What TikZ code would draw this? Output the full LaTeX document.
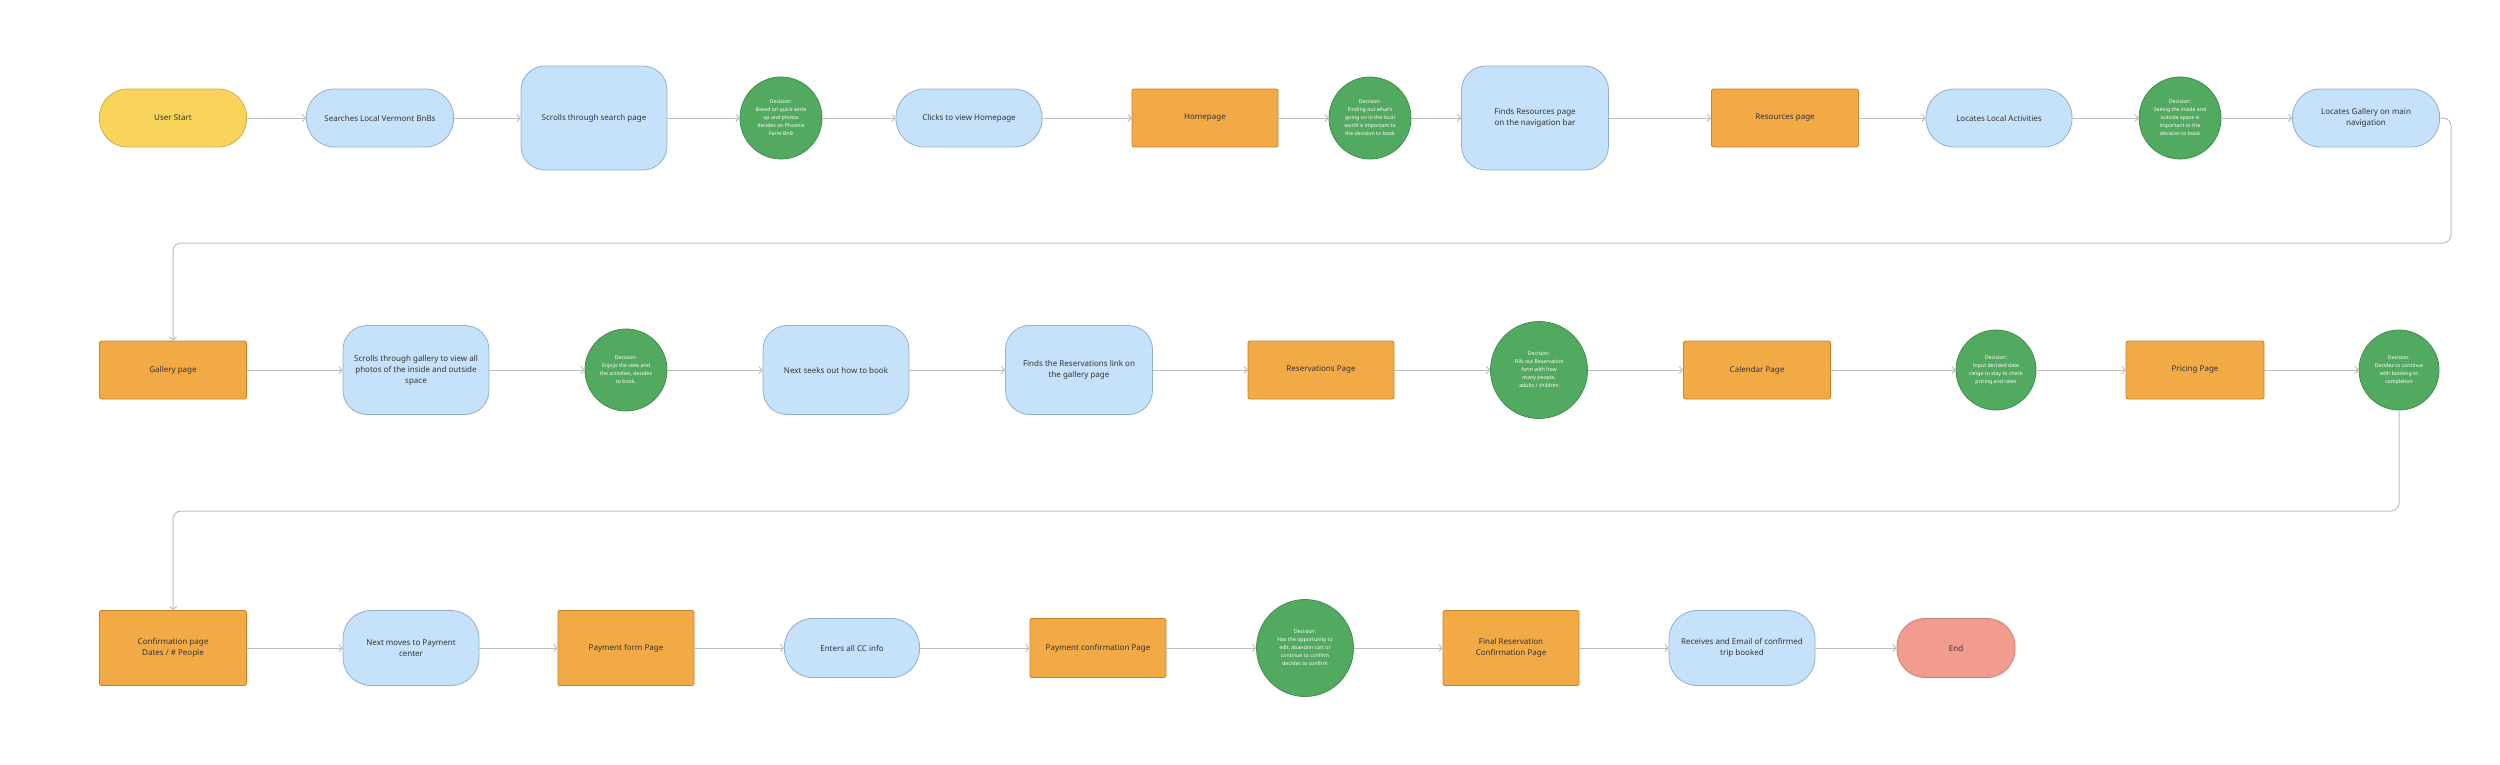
\documentclass[tikz,border=0pt]{standalone}
\usepackage{fontspec}
\setmainfont{Noto Sans}
\usetikzlibrary{arrows.meta}

\definecolor{startfill}{HTML}{F8D45A}
\definecolor{startline}{HTML}{CFAF55}
\definecolor{stepfill}{HTML}{C6E2FA}
\definecolor{stepline}{HTML}{93AECB}
\definecolor{pagefill}{HTML}{F2AA47}
\definecolor{pageline}{HTML}{C78426}
\definecolor{decfill}{HTML}{52AA61}
\definecolor{decline}{HTML}{3F8E4D}
\definecolor{endfill}{HTML}{F19C8F}
\definecolor{endline}{HTML}{C8837A}
\definecolor{flowgray}{HTML}{BDBDBD}
\definecolor{textgray}{HTML}{333333}

\tikzset{
  flowbox/.style={draw, line width=0.8pt, text=textgray, align=center,
    font=\fontsize{8}{11}\selectfont, inner sep=2pt},
  startnode/.style={flowbox, fill=startfill, draw=startline, rounded corners=28pt,
    minimum width=147pt, minimum height=58pt},
  stepnode/.style={flowbox, fill=stepfill, draw=stepline, rounded corners=28pt,
    minimum width=147pt, minimum height=58pt},
  tallstep/.style={stepnode, rounded corners=24pt, minimum height=104pt},
  midstep/.style={stepnode, rounded corners=24pt, minimum height=89pt},
  pagebox/.style={flowbox, fill=pagefill, draw=pageline, rounded corners=2pt,
    minimum width=147pt, minimum height=58pt},
  endbox/.style={flowbox, fill=endfill, draw=endline, rounded corners=28pt,
    minimum width=118pt, minimum height=59pt},
  decisionnode/.style={circle, draw=decline, fill=decfill, line width=0.8pt,
    text=white, align=center, inner sep=0pt, minimum size=82pt,
    font=\fontsize{5.2}{8}\selectfont},
  flow/.style={draw=flowgray, line width=1pt, -{Straight Barb[length=3pt,width=7pt]}},
}

\begin{document}
\begin{tikzpicture}[x=1pt,y=1pt,yscale=-1,xscale=1]
\useasboundingbox (0,0) rectangle (2500,764);

% Row 1
\node[startnode] (userstart) at (173,118) {User Start};
\node[stepnode] (searches) at (380,118) {Searches Local Vermont BnBs};
\node[tallstep, minimum width=146pt] (scrolls) at (594,118) {Scrolls through search page};
\node[decisionnode] (dec1) at (781,118) {Decision:\\Based on quick write\\up and photos\\decides on Phoenix\\Farm BnB};
\node[stepnode, minimum width=146pt] (clicks) at (969,118) {Clicks to view Homepage};
\node[pagebox, minimum width=146pt] (homepage) at (1205,118) {Homepage};
\node[decisionnode] (dec2) at (1370,118) {Decision:\\Finding out what's\\going on in the local\\world is important to\\the decision to book};
\node[tallstep] (findres) at (1535,118) {Finds Resources page\\on the navigation bar};
\node[pagebox] (respage) at (1785,118) {Resources page};
\node[stepnode, minimum width=146pt] (locact) at (1999,118) {Locates Local Activities};
\node[decisionnode] (dec3) at (2180,118) {Decision:\\Seeing the inside and\\outside space is\\important to the\\decision to book};
\node[stepnode] (locgal) at (2366,118) {Locates Gallery on main\\navigation};

% Row 2
\node[pagebox] (galpage) at (173,370) {Gallery page};
\node[midstep, minimum width=146pt] (scrollgal) at (416,370) {Scrolls through gallery to view all\\photos of the inside and outside\\space};
\node[decisionnode] (dec4) at (626,370) {Decision:\\Enjoys the view and\\the activities, decides\\to book.};
\node[midstep, minimum width=146pt] (nextseek) at (836,370) {Next seeks out how to book};
\node[midstep] (findresv) at (1079,370) {Finds the Reservations link on\\the gallery page};
\node[pagebox, minimum width=146pt] (resvpage) at (1321,370) {Reservations Page};
\node[decisionnode, minimum size=97pt] (dec5) at (1539,370) {Decision:\\Fills out Reservation\\form with how\\many people,\\adults / children};
\node[pagebox] (calpage) at (1757,370) {Calendar Page};
\node[decisionnode, minimum size=80pt] (dec6) at (1996,370) {Decision:\\Input decided date\\range to stay to check\\pricing and rates};
\node[pagebox, minimum width=138pt] (pricepage) at (2195,370) {Pricing Page};
\node[decisionnode, minimum size=80pt] (dec7) at (2399,370) {Decision:\\Decides to continue\\with booking to\\completion};

% Row 3
\node[pagebox, minimum height=75pt] (confpage) at (173,648) {Confirmation page\\Dates / \# People};
\node[stepnode, minimum width=136pt, minimum height=75pt] (nextpay) at (411,648) {Next moves to Payment\\center};
\node[pagebox, minimum width=136pt, minimum height=75pt] (payform) at (626,648) {Payment form Page};
\node[stepnode, minimum width=135pt, minimum height=59pt] (entercc) at (852,648) {Enters all CC info};
\node[pagebox, minimum width=136pt, minimum height=59pt] (payconf) at (1098,648) {Payment confirmation Page};
\node[decisionnode, minimum size=97pt] (dec8) at (1305,648) {Decision:\\Has the opportunity to\\edit, abandon cart or\\continue to confirm\\decides to confirm};
\node[pagebox, minimum width=136pt, minimum height=75pt] (finalconf) at (1511,648) {Final Reservation\\Confirmation Page};
\node[stepnode, minimum width=146pt, minimum height=75pt] (receives) at (1742,648) {Receives and Email of confirmed\\trip booked};
\node[endbox] (finish) at (1956,648) {End};

% turning points
\coordinate (turnA) at (2451,243);
\coordinate (turnB) at (2399,511);

%Straight Lines
\draw[flow] (userstart) -- (searches);
\draw[flow] (searches) -- (scrolls);
\draw[flow] (scrolls) -- (dec1);
\draw[flow] (dec1) -- (clicks);
\draw[flow] (clicks) -- (homepage);
\draw[flow] (homepage) -- (dec2);
\draw[flow] (dec2) -- (findres);
\draw[flow] (findres) -- (respage);
\draw[flow] (respage) -- (locact);
\draw[flow] (locact) -- (dec3);
\draw[flow] (dec3) -- (locgal);
%Elbow line to row 2
\draw[flow, rounded corners=8pt] (locgal.east) -| (turnA) -| (galpage.north);

\draw[flow] (galpage) -- (scrollgal);
\draw[flow] (scrollgal) -- (dec4);
\draw[flow] (dec4) -- (nextseek);
\draw[flow] (nextseek) -- (findresv);
\draw[flow] (findresv) -- (resvpage);
\draw[flow] (resvpage) -- (dec5);
\draw[flow] (dec5) -- (calpage);
\draw[flow] (calpage) -- (dec6);
\draw[flow] (dec6) -- (pricepage);
\draw[flow] (pricepage) -- (dec7);
%Elbow line to row 3
\draw[flow, rounded corners=8pt] (dec7.south) -- (turnB) -| (confpage.north);

\draw[flow] (confpage) -- (nextpay);
\draw[flow] (nextpay) -- (payform);
\draw[flow] (payform) -- (entercc);
\draw[flow] (entercc) -- (payconf);
\draw[flow] (payconf) -- (dec8);
\draw[flow] (dec8) -- (finalconf);
\draw[flow] (finalconf) -- (receives);
\draw[flow] (receives) -- (finish);

\end{tikzpicture}
\end{document}
